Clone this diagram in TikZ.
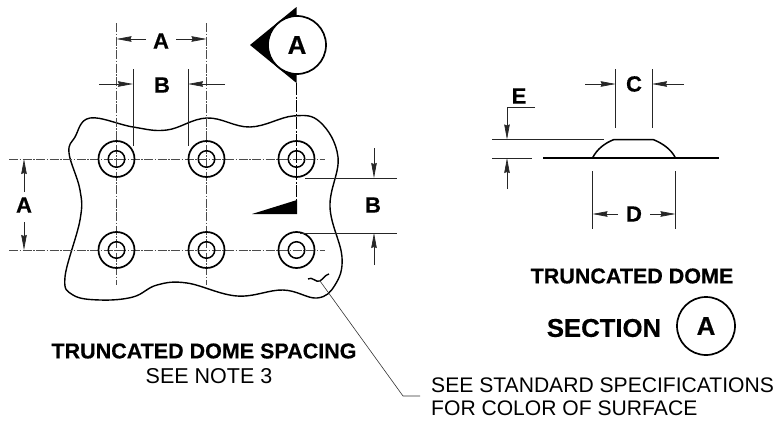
\documentclass[tikz,border=0pt]{standalone}
\usepackage{fontspec}
\setmainfont{Liberation Sans}[BoldFeatures={FakeBold=0.4}]
\usetikzlibrary{arrows.meta}
\tikzset{
  thinl/.style={line width=0.7pt,draw=black!85},
  center/.style={line width=0.6pt,draw=black!70,dash pattern=on 9pt off 1.5pt on 1.5pt off 1.5pt},
  dimarrow/.style={thinl,-{Stealth[length=15pt,width=5.5pt,inset=1pt]}},
  outl/.style={line width=1.4pt,draw=black},
  ringo/.style={line width=1.7pt,draw=black,circle,minimum size=36pt,inner sep=0pt},
  ringi/.style={line width=1.5pt,draw=black,circle,minimum size=16.5pt,inner sep=0pt},
  dimlab/.style={font=\fontsize{22}{22}\selectfont\bfseries,inner sep=0pt},
  boldtxt/.style={font=\fontsize{21.5}{24}\selectfont\bfseries,inner sep=0pt},
  regtxt/.style={font=\fontsize{21.1}{23}\selectfont,inner sep=0pt,anchor=base west},
  bubble/.style={circle,draw=black,line width=1.7pt,fill=white,minimum size=58pt,inner sep=0pt,font=\fontsize{26}{26}\selectfont\bfseries}
}
\begin{document}
\begin{tikzpicture}[x=1pt,y=-1pt]
\useasboundingbox (0,0) rectangle (774,423);
% sheet outline
\draw[outl] plot[smooth cycle,tension=0.65] coordinates {(90,118) (133,127) (167,130) (207,118) (250,127) (293,116) (320,122) (338,157) (330,207) (342,257) (335,285) (317,298) (283,290) (237,296) (187,283) (157,285) (133,297) (100,300) (73,295) (65,277) (80,220) (80,190) (69,153) (75,137)};
% centre lines
\draw[center] (9,159) -- (325,159);
\draw[center] (9,250) -- (325,250);
\draw[center] (116.5,23) -- (116.5,285);
\draw[center] (206.5,23) -- (206.5,285);
% domes
\foreach \n/\x/\y in {a/116.5/159,b/206.5/159,c/296.5/159,d/116.5/250,e/206.5/250,f/296.5/250}{
  \node[ringo] (o\n) at (\x,\y) {};
  \node[ringi] (i\n) at (\x,\y) {};
}
% section line
\coordinate (secT) at (296.5,83);
\coordinate (secB) at (296.5,214);
\draw[line width=1.6pt,dash pattern=on 12pt off 1.5pt on 2pt off 1.5pt] (secT) -- (secB);
\fill (250,45) -- (296.5,7) -- (296.5,83) -- cycle;
\node[bubble] (secA) at (297,45) {A};
\fill (252,214) -- (297,200) -- (297,214) -- cycle;
% top dims
\node[dimlab] (la) at (161,41) {A};
\draw[dimarrow] (146,39) -- (116.5,39);
\draw[dimarrow] (176,39) -- (206.5,39);
\node[dimlab] (lb) at (162,85) {B};
\draw[thinl] (133,69) -- (133,146);
\draw[thinl] (188,69) -- (188,146);
\draw[dimarrow] (99,84) -- (133,84);
\draw[dimarrow] (225,84) -- (188,84);
% left dim
\node[dimlab] (lal) at (24,205) {A};
\draw[dimarrow] (24,192) -- (24,159);
\draw[dimarrow] (24,222) -- (24,250);
% right dim
\node[dimlab] (lbr) at (373,205) {B};
\draw[thinl] (305,178) -- (397,178);
\draw[thinl] (300,233) -- (397,233);
\draw[dimarrow] (374,148) -- (374,178);
\draw[dimarrow] (374,265) -- (374,233);
% surface leader
\draw[line width=1.4pt] (308,279) .. controls (312,276) and (316,283) .. (320,281) .. controls (323,279) and (325,275) .. (329,274);
\draw[line width=0.6pt,draw=black!80] (320,281) -- (403,396) -- (420,396);
% section view
\draw[line width=1.6pt] (543,158) -- (719,158);
\draw[line width=1.5pt] (592.5,158) .. controls (597,149) and (605,143) .. (614,139.5) -- (653,139.5) .. controls (662,143) and (671,149) .. (675.5,158);
\node[dimlab] (lc) at (634,84) {C};
\draw[thinl] (615.7,69) -- (615.7,128);
\draw[thinl] (652,69) -- (652,128);
\draw[dimarrow] (585,84) -- (615.7,84);
\draw[dimarrow] (684,84) -- (652,84);
\node[dimlab] (le) at (519,96) {E};
\draw[thinl] (492,139.5) -- (604,139.5);
\draw[thinl] (492,158) -- (532,158);
\draw[dimarrow] (535,107.5) -- (507,107.5) -- (507,139.5);
\draw[dimarrow] (507,189) -- (507,158);
\node[dimlab] (ld) at (634,214) {D};
\draw[thinl] (592.5,171) -- (592.5,229);
\draw[thinl] (675.5,171) -- (675.5,229);
\draw[dimarrow] (618,214) -- (592.5,214);
\draw[dimarrow] (650,214) -- (675.5,214);
% captions
\node[boldtxt] (t1) at (632,276) {TRUNCATED DOME};
\node[font=\fontsize{25.7}{26}\selectfont\bfseries,inner sep=0pt] (t2) at (604,328) {SECTION};
\node[bubble] (t3) at (706,326) {A};
\node[boldtxt] (t4) at (204,351) {TRUNCATED DOME SPACING};
\node[font=\fontsize{21.5}{23}\selectfont,inner sep=0pt] (t5) at (209,376) {SEE NOTE 3};
\node[regtxt] (t6) at (431,392) {SEE STANDARD SPECIFICATIONS};
\node[regtxt] (t7) at (431,415) {FOR COLOR OF SURFACE};
\end{tikzpicture}
\end{document}
